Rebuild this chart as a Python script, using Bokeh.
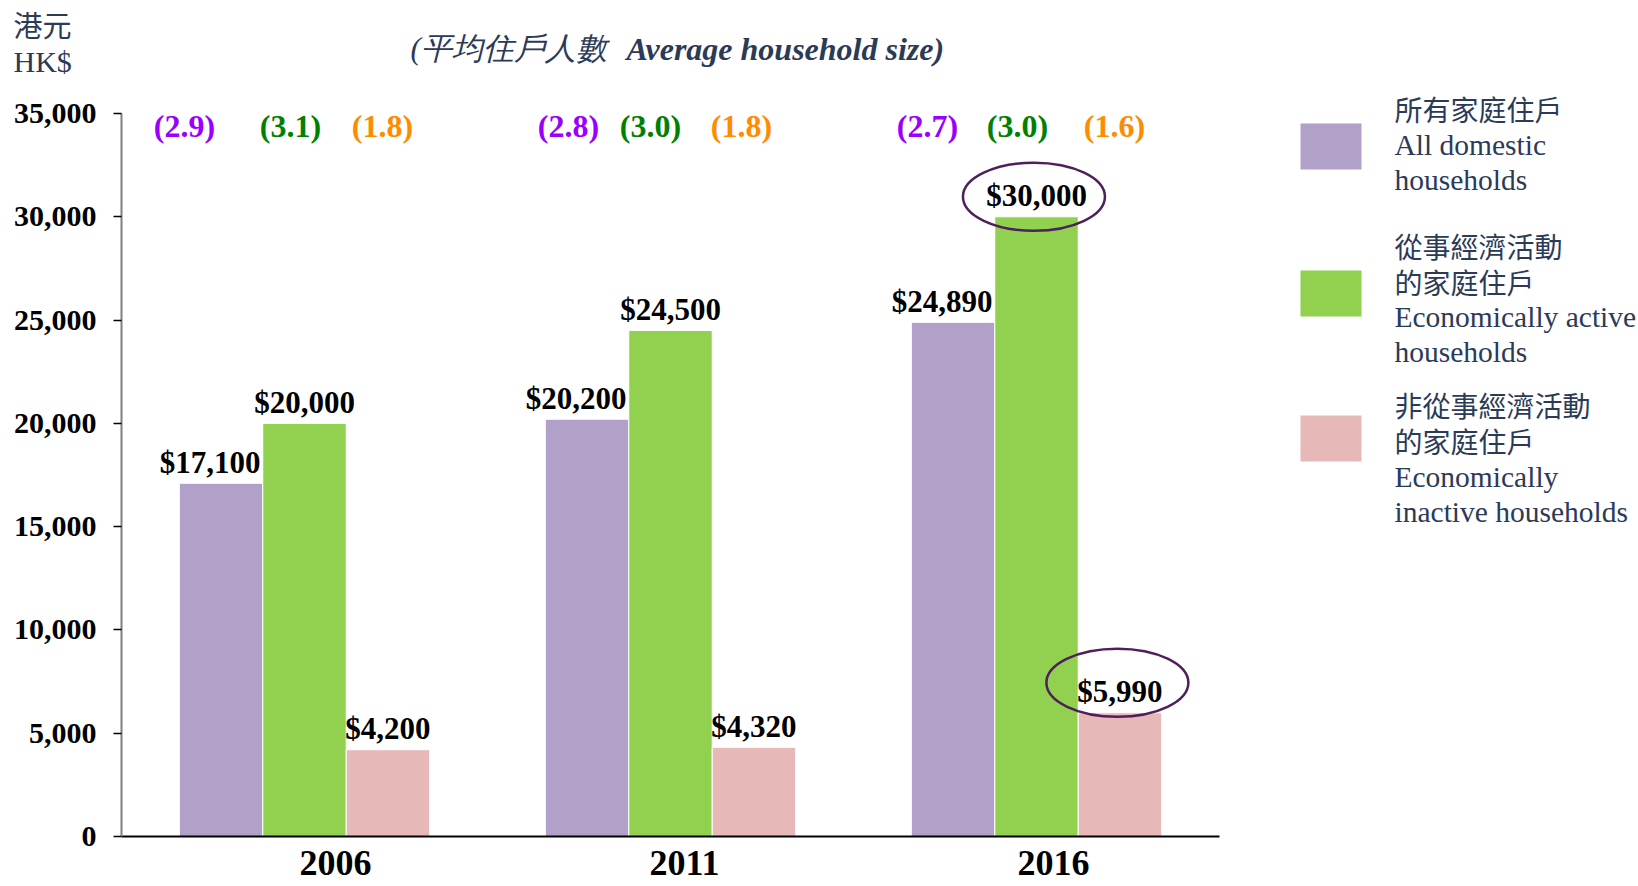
from bokeh.plotting import figure
from bokeh.layouts import column
from bokeh.models import Range1d, FixedTicker, NumeralTickFormatter, ColumnDataSource
from bokeh.core.properties import value
from bokeh.embed import file_html
from bokeh.resources import INLINE

# ---------------- data ----------------
years = ["2006", "2011", "2016"]
all_households = [17100, 20200, 24890]
active_households = [20000, 24500, 30000]
inactive_households = [4200, 4320, 5990]
size_all = [2.9, 2.8, 2.7]
size_active = [3.1, 3.0, 3.0]
size_inactive = [1.8, 1.8, 1.6]
y_ticks = [0, 5000, 10000, 15000, 20000, 25000, 30000, 35000]
legend_lines = [
    ["所有家庭住戶", "All domestic", "households"],
    ["從事經濟活動", "的家庭住戶", "Economically active", "households"],
    ["非從事經濟活動", "的家庭住戶", "Economically", "inactive households"],
]
unit_cn = "港元"
unit_en = "HK$"
subtitle_cn = "(平均住戶人數"
subtitle_en = "Average household size)"
highlights = [(2, 1), (2, 2)]  # (year index, series index)

# ---------------- styling / layout ----------------
PAGE_W = 1638
TOP_H = 80
MAIN_H = 886 - TOP_H
LEFT = 121                 # page x of the y axis
AXIS_Y = 836               # page y of the x axis
CAT_PX = 366.0
PPU = 723.0 / y_ticks[-1]  # pixels per data unit
BOTTOM = TOP_H + MAIN_H - AXIS_Y
x0 = -0.5
x1 = x0 + (PAGE_W - LEFT) / CAT_PX
y_top = (AXIS_Y - TOP_H) / PPU

def sx(px):
    return x0 + (px - LEFT) / CAT_PX

def sy(py):
    return (AXIS_Y - py) / PPU

colors = ["#b1a0c7", "#92d050", "#e6b8b7"]
size_colors = ["#9a00ff", "#008000", "#ff8c00"]
navy = "#2b3a57"
serif = "Liberation Serif"
cjk = "Noto Sans CJK TC"
bar_w = 0.228
offsets = [-bar_w, 0.0, bar_w]
label_dx = [-11, 0, 0]
# pixel shifts of the household-size labels from each group centre
size_dx = [[-120, -14, 78], [-102, -20, 71], [-109, -19, 78]]
year_label_dx = [31, 14, 17]

# ---------- top strip: unit and subtitle ----------
top = figure(width=PAGE_W, height=TOP_H, output_backend="svg",
             toolbar_location=None, x_range=Range1d(0, PAGE_W),
             y_range=Range1d(TOP_H, 0), x_axis_type=None, y_axis_type=None,
             min_border=0, title=None)
top.outline_line_color = None
top.grid.visible = False
top.text(x=[13], y=[23], text=[unit_cn], text_font=value(cjk),
         text_font_size="29px", text_color=navy, text_align="left",
         text_baseline="middle")
top.text(x=[13], y=[61], text=[unit_en], text_font=value(serif),
         text_font_size="30px", text_color=navy, text_align="left",
         text_baseline="middle")
top.text(x=[410], y=[48], text=[subtitle_cn], text_font=value(serif),
         text_font_style="italic", text_font_size="31px",
         text_color=navy, text_align="left", text_baseline="middle")
top.text(x=[626], y=[48], text=[subtitle_en], text_font=value(serif),
         text_font_style="bold italic", text_font_size="32px",
         text_color=navy, text_align="left", text_baseline="middle")

# ---------- main chart ----------
p = figure(width=PAGE_W, height=MAIN_H, output_backend="svg",
           toolbar_location=None,
           x_range=Range1d(x0, x1), y_range=Range1d(0, y_top),
           min_border_left=LEFT, min_border_right=0, min_border_top=0,
           min_border_bottom=BOTTOM, title=None)
p.outline_line_color = None
p.grid.visible = False
p.background_fill_color = "white"
p.border_fill_color = "white"

for fig in (top, p):
    try:
        fig.frame_align = False
    except Exception:
        pass

series = [all_households, active_households, inactive_households]
sizes = [size_all, size_active, size_inactive]
xs_base = list(range(len(years)))

for s, vals in enumerate(series):
    xs = [i + offsets[s] for i in xs_base]
    src = ColumnDataSource(dict(x=xs, top=vals,
                                lab=["${:,}".format(v) for v in vals]))
    p.vbar(x="x", top="top", width=bar_w, bottom=0, source=src,
           fill_color=colors[s], line_color="white", line_width=1)
    p.text(x="x", y="top", text="lab", source=src,
           text_font=value(serif), text_font_style="bold",
           text_font_size="31px", text_color="black",
           text_align="center", text_baseline="alphabetic",
           x_offset=label_dx[s], y_offset=-21)

# household-size annotations
for s, sv in enumerate(sizes):
    src = ColumnDataSource(dict(x=[i + size_dx[i][s] / CAT_PX for i in xs_base],
                                y=[sy(125)] * len(sv),
                                lab=["({:.1f})".format(v) for v in sv]))
    p.text(x="x", y="y", text="lab", source=src,
           text_font=value(serif), text_font_style="bold",
           text_font_size="32px", text_color=size_colors[s],
           text_align="center", text_baseline="middle")

# highlight ellipses
ell_dy = [20, 30]
ex = [highlights[k][0] + offsets[highlights[k][1]] - 0.007 for k in range(len(highlights))]
ey = [series[highlights[k][1]][highlights[k][0]] + ell_dy[k] / PPU for k in range(len(highlights))]
p.ellipse(x=ex, y=ey, width=142, height=68, width_units="screen",
          height_units="screen", fill_color=None, line_color="#4f1f5c",
          line_width=2.5)

# legend
sw_centers = [146, 293, 438]
line_ys = [[108, 144, 179], [245, 281, 316, 351], [404, 440, 476, 511]]
for s in range(3):
    p.rect(x=[sx(1330.5)], y=[sy(sw_centers[s])], width=61, height=46,
           width_units="screen", height_units="screen",
           fill_color=colors[s], line_color=None)
    for k, line in enumerate(legend_lines[s]):
        is_cjk = any(ord(c) > 0x2E80 for c in line)
        p.text(x=[sx(1394)], y=[sy(line_ys[s][k])], text=[line],
               text_font=value(cjk if is_cjk else serif),
               text_font_size="28px" if is_cjk else "29.5px",
               text_color=navy, text_align="left", text_baseline="middle")

# axes
ya = p.yaxis[0]
ya.ticker = FixedTicker(ticks=y_ticks)
ya.formatter = NumeralTickFormatter(format="0,0")
ya.bounds = (y_ticks[0], y_ticks[-1])
ya.axis_line_color = "#7f7f7f"
ya.axis_line_width = 2
ya.major_tick_line_color = "black"
ya.major_tick_line_width = 1.5
ya.major_tick_out = 8
ya.major_tick_in = 0
ya.minor_tick_line_color = None
ya.major_label_standoff = 17
ya.major_label_text_font = serif
ya.major_label_text_font_style = "bold"
ya.major_label_text_font_size = "30px"
ya.major_label_text_color = "black"

xa = p.xaxis[0]
x_tick_pos = [i + year_label_dx[i] / CAT_PX for i in xs_base]
xa.ticker = FixedTicker(ticks=x_tick_pos)
xa.major_label_overrides = {t: y for t, y in zip(x_tick_pos, years)}
xa.bounds = (x0, x0 + len(years))
xa.axis_line_color = "black"
xa.axis_line_width = 2
xa.major_tick_line_color = None
xa.minor_tick_line_color = None
xa.major_label_standoff = 8
xa.major_label_text_font = serif
xa.major_label_text_font_style = "bold"
xa.major_label_text_font_size = "36px"
xa.major_label_text_color = "black"

layout = column(top, p, spacing=0)
open("out.html", "w").write(file_html(layout, INLINE))
